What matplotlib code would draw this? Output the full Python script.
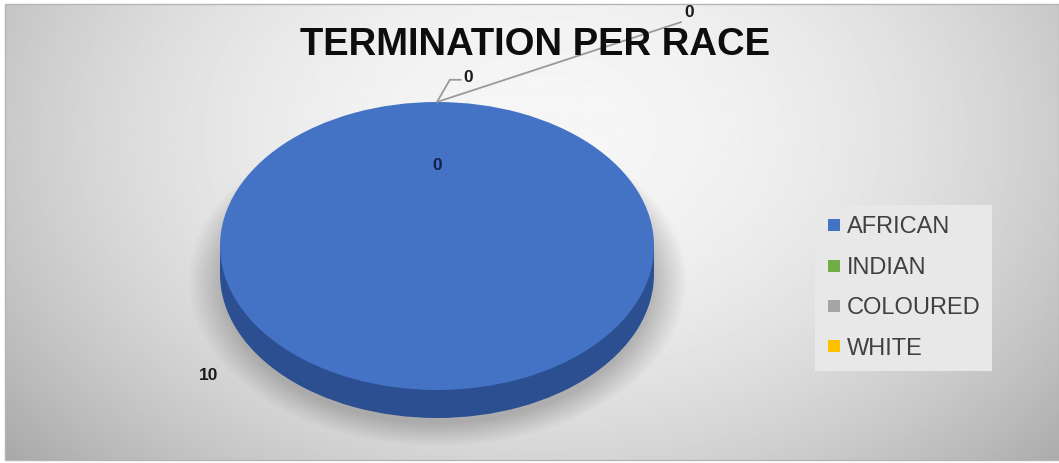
import numpy as np
import matplotlib.pyplot as plt
from matplotlib.lines import Line2D
from matplotlib.patches import Rectangle

# data
races = ["AFRICAN", "INDIAN", "COLOURED", "WHITE"]
terminations = [10, 0, 0, 0]
top_colors = ["#4472C4", "#70AD47", "#A5A5A5", "#FFC000"]
side_colors = ["#2b4f91", "#4e7a31", "#747474", "#b38700"]
title = "TERMINATION PER RACE"

plt.rcParams["font.family"] = ["Liberation Sans", "DejaVu Sans"]

W, H = 1059, 463
fig = plt.figure(figsize=(W / 100, H / 100), dpi=100)
fig.patch.set_facecolor("white")

# --- background panel with soft radial gradient ---
bg = fig.add_axes([0, 0, 1, 1])
bg.set_xlim(0, W)
bg.set_ylim(H, 0)
bg.axis("off")
yy, xx = np.mgrid[0:H, 0:W]
r2 = ((xx - 540) / 560.0) ** 2 + ((yy - 130) / 400.0) ** 2
shade = np.clip(0.965 - 0.19 * r2, 0, 1)
bg.imshow(shade, cmap="gray", vmin=0, vmax=1, extent=(5, W, 460, 4),
          aspect="auto", interpolation="bilinear")
bg.add_patch(Rectangle((5, 4), W - 5, 456, fill=False, edgecolor="#b5b5b5", linewidth=1))

# --- 3D-looking pie: top face in an axes squashed into an ellipse ---
left, right, top, face_bottom, depth_px = 220, 654, 102, 390, 28
ry_px = (face_bottom - top) / 2.0
depth = depth_px / ry_px
ax = fig.add_axes([left / W, 1 - (face_bottom + depth_px) / H,
                   (right - left) / W, (face_bottom + depth_px - top) / H])
ax.set_zorder(2)

# soft shadow under the disc
gx, gy = np.meshgrid(np.linspace(-1.3, 1.3, 300), np.linspace(-1.6, 1.2, 300))
rr = np.sqrt((gx / 1.02) ** 2 + ((gy + depth + 0.05) / 1.02) ** 2)
alpha = 0.45 * np.clip((1.13 - rr) / 0.16, 0, 1)
shadow = np.zeros(gx.shape + (4,))
shadow[..., :3] = 0.45
shadow[..., 3] = alpha
ax.imshow(shadow, extent=(-1.3, 1.3, -1.6, 1.2), origin="lower",
          aspect="auto", zorder=0, clip_on=False)

# side wall (lower disc + band), then the top face
ax.pie(terminations, colors=side_colors, startangle=90, counterclock=False,
       center=(0, -depth), wedgeprops=dict(linewidth=0))
ax.fill_between([-1, 1], -depth, 0, color=side_colors[0], linewidth=0)
wedges, _ = ax.pie(terminations, colors=top_colors, startangle=90, counterclock=False,
                   wedgeprops=dict(linewidth=0))
ax.set_aspect("auto")
ax.set_xlim(-1, 1)
ax.set_ylim(-1 - depth, 1)
for w in wedges:
    w.set_zorder(3)

# --- data labels (Excel style) ---
lab_kw = dict(fontsize=12.5, fontweight="bold", color="#1a1a1a", zorder=5)
anchor = wedges[1].theta1  # zero slices sit at 12 o'clock
ax0 = (np.cos(np.radians(anchor)), np.sin(np.radians(anchor)))
ax.text(0, 0.56, str(terminations[1]), ha="center", va="center",
        **{**lab_kw, "color": "#14214a"})
ax.annotate(str(terminations[2]), xy=ax0, xytext=(0.145, 1.17),
            ha="center", va="center", annotation_clip=False,
            arrowprops=dict(arrowstyle="-", color="#9a9a9a", lw=1.3,
                            shrinkA=0, shrinkB=0, relpos=(0, 0.35),
                            connectionstyle="angle,angleA=0,angleB=60,rad=0"),
            **lab_kw)
ax.annotate(str(terminations[3]), xy=ax0, xytext=(1.16, 1.62),
            ha="center", va="center", annotation_clip=False,
            arrowprops=dict(arrowstyle="-", color="#9a9a9a", lw=1.3,
                            shrinkA=0, shrinkB=0, relpos=(0.3, 0),
                            connectionstyle="arc3,rad=0"),
            **lab_kw)
ax.text(-1.055, -0.9, str(terminations[0]), ha="center", va="center",
        clip_on=False, **lab_kw)

# --- title ---
fig.text(535 / W, 1 - 45 / H, title, ha="center", va="center",
         fontsize=27.5, fontweight="bold", color="#0d0d0d")

# --- legend ---
handles = [Line2D([], [], marker="s", linestyle="none", markersize=8,
                  markerfacecolor=c, markeredgewidth=0) for c in top_colors]
leg = fig.legend(handles, races, loc="center left",
                 bbox_to_anchor=(815 / W, 1 - 288 / H),
                 fontsize=17, labelspacing=0.78, handlelength=0.6,
                 handletextpad=0.25, borderpad=0.5, borderaxespad=0,
                 frameon=True, fancybox=False, facecolor="#e8e8e8",
                 edgecolor="none", framealpha=1)
for t in leg.get_texts():
    t.set_color("#404040")

fig.savefig("out.png", dpi=100)
